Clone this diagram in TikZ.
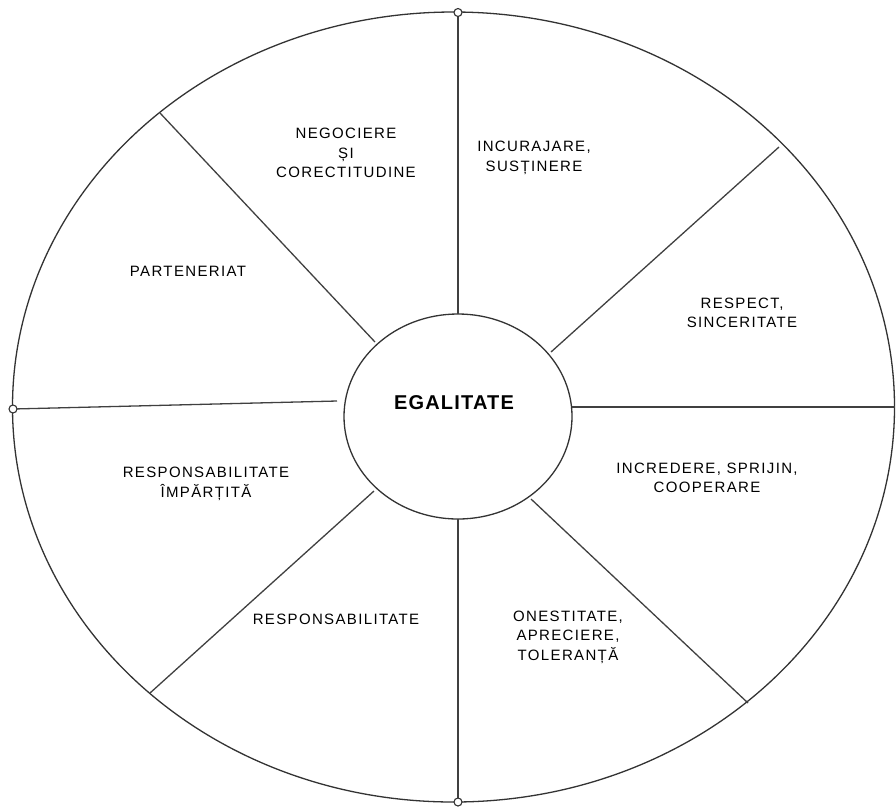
\documentclass[tikz,border=0pt]{standalone}
\usepackage{fontspec}
\setmainfont{Liberation Sans}
\newfontfamily\lbl[LetterSpace=9]{Liberation Sans}
\newfontfamily\ttl[LetterSpace=6]{Liberation Sans}
\usetikzlibrary{shapes.geometric}
\tikzset{
  lineclr/.style={draw=black!80, line width=1.3pt},
  spoke/.style={draw=black!75, line width=1.3pt},
  lab/.style={align=center, font=\lbl\fontsize{15}{19.5}\selectfont, inner sep=0pt},
  dot/.style={circle, draw=black!80, fill=white, line width=1.1pt, minimum size=8pt, inner sep=0pt},
}
\begin{document}
\begin{tikzpicture}[x=1pt,y=-1pt]
\useasboundingbox (0,0) rectangle (896,807);
% outer and inner ellipses
\node[ellipse, lineclr, minimum width=882pt, minimum height=790pt, inner sep=0pt] (outer) at (453.5,407) {};
\node[ellipse, lineclr, fill=white, minimum width=228pt, minimum height=205pt, inner sep=0pt] (inner) at (458,416.5) {};
% spoke end points
\coordinate (oT) at (458,12.5);
\coordinate (iT) at (458,314);
\coordinate (oUL) at (160,113);
\coordinate (iUL) at (375,342);
\coordinate (oUR) at (779,147);
\coordinate (iUR) at (551,352);
\coordinate (oR) at (895,407);
\coordinate (iR) at (572,407);
\coordinate (oLR) at (748,703);
\coordinate (iLR) at (531,499);
\coordinate (oB) at (458,802);
\coordinate (iB) at (458,519);
\coordinate (oLL) at (150,693);
\coordinate (iLL) at (374,491);
\coordinate (oL) at (13,409);
\coordinate (iL) at (337,401);
\draw[spoke] (oT) -- (iT);
\draw[spoke] (oUL) -- (iUL);
\draw[spoke] (oUR) -- (iUR);
\draw[spoke] (oR) -- (iR);
\draw[spoke] (oLR) -- (iLR);
\draw[spoke] (oB) -- (iB);
\draw[spoke] (oLL) -- (iLL);
\draw[spoke] (oL) -- (iL);
% small circles
\node[dot] (dT) at (oT) {};
\node[dot] (dL) at (oL) {};
\node[dot] (dB) at (oB) {};
% labels
\node[font=\ttl\bfseries\fontsize{20}{24}\selectfont, inner sep=0pt] (eg) at (454,402.5) {EGALITATE};
\node[lab] (t1) at (346,153) {NEGOCIERE\\ȘI\\CORECTITUDINE};
\node[lab] (t2) at (534,158) {INCURAJARE,\\SUSȚINERE};
\node[lab] (t3) at (188,271) {PARTENERIAT};
\node[lab] (t4) at (742,313) {RESPECT,\\SINCERITATE};
\node[lab] (t5) at (707,478) {INCREDERE, SPRIJIN,\\COOPERARE};
\node[lab] (t6) at (206,484) {RESPONSABILITATE\\ÎMPĂRȚITĂ};
\node[lab] (t7) at (336,619) {RESPONSABILITATE};
\node[lab] (t8) at (568,637) {ONESTITATE,\\APRECIERE,\\TOLERANȚĂ};
\end{tikzpicture}
\end{document}
